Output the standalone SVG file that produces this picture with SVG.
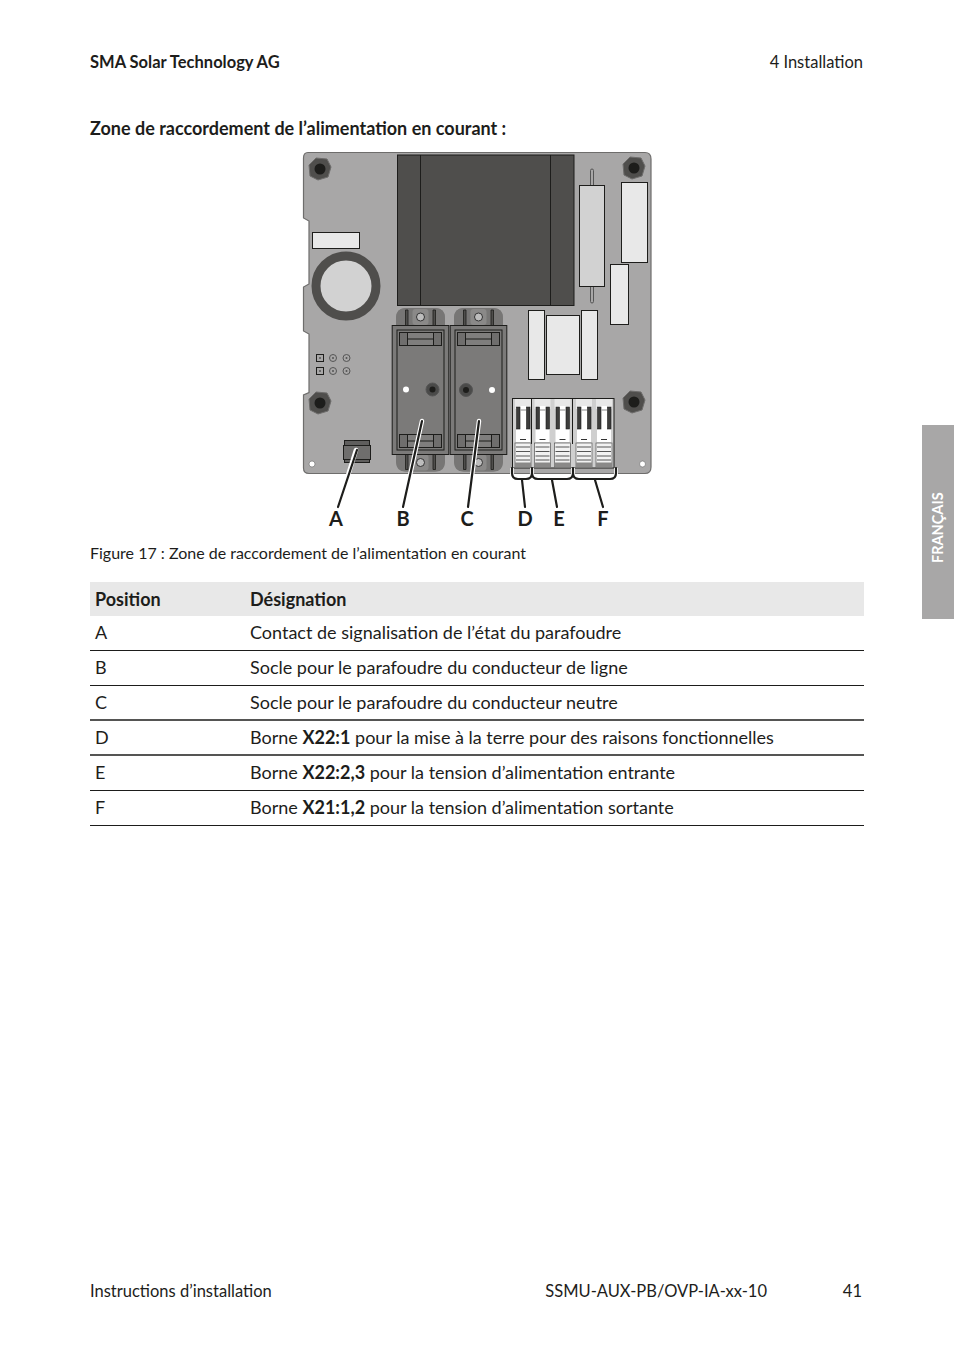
<svg xmlns="http://www.w3.org/2000/svg" xmlns:xlink="http://www.w3.org/1999/xlink" width="954" height="1354" viewBox="0 0 954 1354">
<style>
text{font-family:"Lato","Noto Sans","Liberation Sans",sans-serif;fill:#1d1d1b}
.t{font-size:18px}
.b{font-size:18px;font-weight:700}
.h{font-size:16.5px}
.hb{font-size:16.5px;font-weight:700}
.c{font-size:20px;font-weight:700;text-anchor:middle}
.rule{stroke:#1d1d1b;stroke-width:1}
.w{fill:#e8e8e8;stroke:#1d1d1b;stroke-width:1}
.k{fill:none;stroke:#1d1d1b;stroke-width:1}
.lead{fill:none;stroke:#1d1d1b;stroke-width:2.2;stroke-linecap:round}
.halo{fill:none;stroke:#fff;stroke-width:4.5;stroke-linecap:round}
</style>
<defs>
<g id="nut">
<polygon points="-11,-4 -4,-11 7,-10 11,-2 8,8 -2,11 -10,7" fill="#4f4e4c" stroke="#6e6d6c" stroke-width="1"/>
<circle r="5.5" fill="#1d1d1b"/>
</g>
<g id="socket">
<path d="M-24.5,-17 V-5 Q-24.500,-17 -14,-17 H14 Q24.500,-17 24.500,-5 V0 H-24.500Z" fill="#7a7978" transform="translate(0,0)"/>
<path d="M-24.500,0 V-7 Q-24.500,-17 -15,-17 H15 Q24.500,-17 24.500,-7 V0Z" fill="#777675"/>
<path d="M-15,0 V-15 H-12.500 V0 M12.500,0 V-15 H15 V0" fill="#4f4e4c" stroke="#1d1d1b" stroke-width=".8"/>
<rect x="-8" y="-16" width="16" height="16" rx="3" fill="#8a8988"/>
<circle cy="-8" r="4" fill="#bdbdbd" stroke="#333" stroke-width="1"/>
</g>
<g id="base">
<rect x="-28.300" y="0" width="56.600" height="129" fill="#7b7a79" stroke="#1d1d1b" stroke-width="1"/>
<rect x="-23.500" y="4.500" width="47" height="120" fill="#7b7a79" stroke="#1d1d1b" stroke-width="1"/>
<rect x="-21" y="7" width="42" height="13" fill="#6f6e6d" stroke="#1d1d1b" stroke-width="1"/>
<rect x="-13" y="7" width="26" height="13" fill="#7f7e7d" stroke="#1d1d1b" stroke-width="1"/>
<path d="M-13,13.500H13" class="k"/>
<rect x="-21" y="109" width="42" height="13" fill="#6f6e6d" stroke="#1d1d1b" stroke-width="1"/>
<rect x="-13" y="109" width="26" height="13" fill="#7f7e7d" stroke="#1d1d1b" stroke-width="1"/>
<path d="M-13,115.500H13" class="k"/>
</g>
<g id="term">
<rect x="0" y="0" width="16" height="10" fill="#e8e8e8"/>
<rect x="1" y="7" width="14" height="36" fill="#fff"/>
<rect x="1.500" y="8" width="3.500" height="22" fill="#3d3d3c" stroke="#1d1d1b" stroke-width=".6"/>
<rect x="11.500" y="8" width="3.500" height="22" fill="#3d3d3c" stroke="#1d1d1b" stroke-width=".6"/>
<path d="M5.500,11H11" stroke="#8a8a8a" stroke-width="1"/>
<path d="M5,40.500H11" stroke="#333" stroke-width="1"/>
<rect x="0" y="44" width="16" height="24" fill="#f2f2f2" stroke="#555" stroke-width=".7"/>
<path d="M1,48H15M1,52.500H15M1,57H15M1,61H15" stroke="#555" stroke-width="1.200"/>
<rect x="0" y="63.500" width="16" height="5" fill="#8a8988"/>
</g>
</defs>
<rect width="954" height="1354" fill="#fff"/>
<g id="header">
<text x="90" y="68" class="hb">SMA Solar Technology AG</text>
<text x="863" y="68" class="h" text-anchor="end">4  Installation</text>
<text x="90" y="135" class="b">Zone de raccordement de l’alimentation en courant :</text>
</g>
<g id="board">
<path d="M308,152.500H645Q651,152.500 651,159V467Q651,473.500 645,473.500H309Q303.500,473.500 303.500,468V395L309,392.500V334L303.500,331V287L309,284V221L303.500,218V158Q303.500,152.500 308,152.500Z" fill="#a8a7a7" stroke="#6e6d6c" stroke-width="1.200"/>
<rect x="397.500" y="155" width="176.500" height="150.500" fill="#4f4e4c" stroke="#1d1d1b"/>
<path d="M420.500,155V305.500M550.500,155V305.500" class="k"/>
<rect x="312.500" y="232.500" width="47" height="16" class="w"/>
<circle cx="346" cy="286" r="30" fill="#d2d2d2" stroke="#4f4e4c" stroke-width="9"/>
<use xlink:href="#nut" x="320" y="169"/>
<use xlink:href="#nut" x="634" y="168"/>
<use xlink:href="#nut" x="320" y="403"/>
<use xlink:href="#nut" x="634" y="402"/>
<rect x="590.500" y="169" width="3" height="134" rx="1.500" fill="#a8a7a7" stroke="#555"/>
<rect x="579.500" y="185.500" width="25" height="101" fill="#d2d2d2" stroke="#1d1d1b"/>
<rect x="621.500" y="182.500" width="26" height="80" class="w"/>
<rect x="610.500" y="264.500" width="18" height="60" class="w"/>
<rect x="528.500" y="310.500" width="16" height="69" class="w"/>
<rect x="546.500" y="315.500" width="33" height="59" class="w"/>
<rect x="581.500" y="310.500" width="16" height="69" class="w"/>
<g fill="#a8a7a7" stroke="#1d1d1b" stroke-width="1">
<rect x="316.500" y="354.500" width="7" height="7"/><rect x="316.500" y="367.500" width="7" height="7"/>
</g>
<g fill="#a8a7a7" stroke="#555" stroke-width="1">
<circle cx="333" cy="358" r="3.500"/><circle cx="346.500" cy="358" r="3.500"/><circle cx="333" cy="371" r="3.500"/><circle cx="346.500" cy="371" r="3.500"/>
</g>
<g fill="#555"><circle cx="320" cy="358" r="1"/><circle cx="333" cy="358" r="1"/><circle cx="346.500" cy="358" r="1"/><circle cx="320" cy="371" r="1"/><circle cx="333" cy="371" r="1"/><circle cx="346.500" cy="371" r="1"/></g>
<circle cx="312" cy="464" r="3" fill="#fff" stroke="#666" stroke-width=".6"/>
<circle cx="642.500" cy="464" r="3" fill="#fff" stroke="#666" stroke-width=".6"/>
</g>
<g id="signal-contact">
<rect x="344.500" y="440.500" width="25" height="22" fill="#5f5e5d" stroke="#1d1d1b"/>
<rect x="343.500" y="445.500" width="27" height="14" fill="#6f6e6d" stroke="#1d1d1b"/>
</g>
<g id="socket-line">
<use xlink:href="#socket" x="420.500" y="325"/>
<use xlink:href="#socket" x="420.500" y="454" transform="translate(0,908.500) scale(1,-1) translate(0,0)"/>
<use xlink:href="#base" x="420.500" y="325.500"/>
<circle cx="406" cy="389.500" r="3" fill="#fff"/>
<circle cx="432.500" cy="389.500" r="6.500" fill="#4a4a49" stroke="#555"/>
<circle cx="432.500" cy="389.500" r="3" fill="#1d1d1b"/>
</g>
<g id="socket-neutral">
<use xlink:href="#socket" x="478.500" y="325"/>
<use xlink:href="#socket" x="478.500" y="454" transform="translate(0,908.500) scale(1,-1)"/>
<use xlink:href="#base" x="478.500" y="325.500"/>
<circle cx="492" cy="390" r="3" fill="#fff"/>
<circle cx="466" cy="390" r="6.500" fill="#4a4a49" stroke="#555"/>
<circle cx="466" cy="390" r="3" fill="#1d1d1b"/>
</g>
<g id="terminals">
<rect x="512.500" y="398.500" width="101.500" height="69.500" fill="#cfcfcf" stroke="#1d1d1b"/>
<path d="M531.500,398.500V444M572.500,398.500V444" class="k"/>
<use xlink:href="#term" x="515" y="399"/>
<use xlink:href="#term" x="534.500" y="399"/>
<use xlink:href="#term" x="554.500" y="399"/>
<use xlink:href="#term" x="576" y="399"/>
<use xlink:href="#term" x="596" y="399"/>
</g>
<g id="connectors">
<path class="halo" d="M356,450L338,507M422,421L403,507M479,421L468,507"/>
<path class="lead" d="M357,450L338,507M422,421L403,507M479,421L468,507"/>
<path d="M512,468V473Q512,479 518,479H526Q532,479 532,473V468M532,473Q532,479 538,479H567Q573,479 573,473V468M573,473Q573,479 579,479H610Q616,479 616,473V468" fill="none" stroke="#fff" stroke-width="4"/>
<path class="lead" d="M512,468V473Q512,479 518,479H526Q532,479 532,473V468M532,473Q532,479 538,479H567Q573,479 573,473V468M573,473Q573,479 579,479H610Q616,479 616,473V468M522,480L525,507M552,480L557,507M595,480L603,507"/>
</g>
<g id="callouts">
<text x="336" y="526" class="c">A</text>
<text x="403" y="526" class="c">B</text>
<text x="467" y="526" class="c">C</text>
<text x="525" y="526" class="c">D</text>
<text x="559" y="526" class="c">E</text>
<text x="603" y="526" class="c">F</text>
</g>
<text x="90" y="559" font-size="16" class="cap" style="font-size:16px">Figure 17 : Zone de raccordement de l’alimentation en courant</text>
<g id="table">
<rect x="90" y="582" width="774" height="34" fill="#e8e8e8"/>
<text x="95" y="606" class="b">Position</text>
<text x="250" y="606" class="b">Désignation</text>
<text x="95" y="639" class="t">A</text>
<text x="250" y="639" class="t">Contact de signalisation de l’état du parafoudre</text>
<path class="rule" d="M90,650.500H864"/>
<text x="95" y="674" class="t">B</text>
<text x="250" y="674" class="t">Socle pour le parafoudre du conducteur de ligne</text>
<path class="rule" d="M90,685.500H864"/>
<text x="95" y="709" class="t">C</text>
<text x="250" y="709" class="t">Socle pour le parafoudre du conducteur neutre</text>
<path class="rule" stroke-width="1.500" style="stroke-width:1.500" d="M90,720H864"/>
<text x="95" y="744" class="t">D</text>
<text x="250" y="744" class="t">Borne <tspan font-weight="700">X22:1</tspan> pour la mise à la terre pour des raisons fonctionnelles</text>
<path class="rule" style="stroke-width:1.500" d="M90,755H864"/>
<text x="95" y="779" class="t">E</text>
<text x="250" y="779" class="t">Borne <tspan font-weight="700">X22:2,3</tspan> pour la tension d’alimentation entrante</text>
<path class="rule" d="M90,790.500H864"/>
<text x="95" y="814" class="t">F</text>
<text x="250" y="814" class="t">Borne <tspan font-weight="700">X21:1,2</tspan> pour la tension d’alimentation sortante</text>
<path class="rule" d="M90,825.500H864"/>
</g>
<g id="tab">
<rect x="922" y="425" width="32" height="194" fill="#a8a7a7"/>
<text transform="translate(943,563) rotate(-90)" style="font-size:14.500px;font-weight:700;fill:#fff">FRANÇAIS</text>
</g>
<g id="footer">
<text x="90" y="1297" class="h">Instructions d’installation</text>
<text x="767" y="1297" class="h" text-anchor="end">SSMU-AUX-PB/OVP-IA-xx-10</text>
<text x="862" y="1297" class="h" text-anchor="end">41</text>
</g>
</svg>
